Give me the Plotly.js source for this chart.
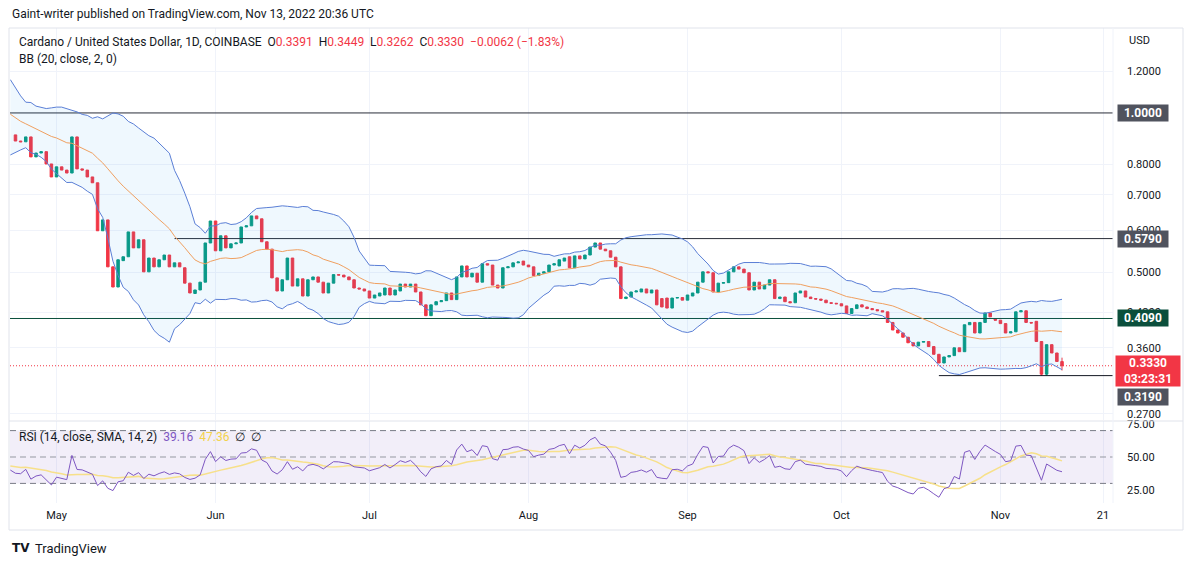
<!DOCTYPE html>
<html><head><meta charset="utf-8">
<script src="https://cdn.plot.ly/plotly-3.0.1.min.js"></script>
<style>html,body{margin:0;padding:0;background:#fff;}#chart{width:1194px;height:565px;}</style>
</head><body><div id="chart"></div>
<script>
// ---- data (ADA/USD daily, Coinbase) ----
const firstCandleDate = '2022-04-23';
const openP = [.909,.885,.882,.901,.826,.840,.845,.801,.757,.791,
 .780,.770,.901,.784,.780,.757,.738,.599,.628,.512,
 .469,.526,.535,.596,.556,.576,.501,.532,.512,.528,
 .539,.512,.521,.510,.477,.456,.463,.479,.568,.625,
 .549,.586,.556,.566,.568,.609,.612,.639,.631,.571,
 .553,.488,.461,.484,.532,.471,.486,.451,.484,.490,
 .479,.457,.477,.495,.494,.490,.484,.467,.465,.461,
 .447,.451,.453,.467,.453,.461,.475,.469,.475,.459,
 .434,.414,.434,.440,.442,.457,.444,.490,.514,.490,
 .498,.479,.519,.516,.473,.467,.510,.512,.521,.525,
 .516,.512,.493,.498,.501,.516,.514,.525,.535,.510,
 .537,.530,.539,.558,.568,.553,.549,.534,.512,.446,
 .449,.459,.459,.465,.457,.463,.446,.447,.428,.447,
 .448,.443,.451,.457,.479,.501,.499,.459,.477,.478,
 .501,.512,.507,.499,.463,.479,.465,.473,.484,.446,
 .449,.440,.438,.457,.461,.449,.446,.445,.443,.438,
 .437,.436,.432,.418,.427,.434,.430,.427,.425,.423,
 .421,.402,.389,.384,.377,.368,.363,.369,.370,.362,
 .350,.337,.346,.348,.360,.354,.398,.402,.384,.402,
 .419,.408,.406,.400,.384,.386,.421,.423,.402,.404,
 .370,.321,.365,.352,.3391];
const highP = [.909,.885,.901,.901,.840,.845,.845,.801,.791,.791,
 .780,.901,.901,.784,.780,.757,.738,.628,.628,.512,
 .528,.535,.596,.596,.576,.576,.532,.532,.528,.539,
 .539,.521,.521,.510,.477,.463,.479,.568,.625,.625,
 .586,.586,.566,.568,.609,.612,.639,.639,.631,.571,
 .553,.488,.484,.532,.532,.486,.486,.484,.490,.490,
 .479,.477,.495,.495,.494,.490,.484,.467,.465,.461,
 .453,.457,.467,.467,.463,.475,.475,.475,.475,.459,
 .434,.434,.440,.442,.457,.457,.490,.514,.514,.498,
 .498,.519,.519,.516,.473,.510,.512,.521,.523,.525,
 .516,.512,.498,.501,.516,.519,.528,.532,.535,.537,
 .537,.539,.558,.568,.568,.553,.549,.534,.512,.449,
 .459,.461,.465,.465,.463,.463,.446,.447,.447,.448,
 .448,.453,.457,.479,.501,.501,.499,.477,.478,.501,
 .512,.512,.507,.499,.479,.479,.473,.484,.484,.449,
 .449,.440,.457,.461,.461,.449,.446,.445,.443,.438,
 .437,.436,.432,.427,.434,.434,.430,.427,.425,.423,
 .421,.402,.389,.384,.377,.368,.369,.370,.370,.362,
 .350,.346,.348,.360,.360,.398,.402,.402,.402,.419,
 .419,.408,.406,.400,.386,.421,.423,.423,.402,.404,
 .370,.365,.365,.352,.3449];
const lowP = [.885,.882,.882,.826,.826,.840,.801,.757,.757,.780,
 .770,.770,.784,.780,.757,.738,.599,.599,.512,.469,
 .469,.526,.535,.556,.556,.501,.501,.512,.512,.528,
 .512,.512,.512,.477,.457,.456,.463,.479,.568,.549,
 .549,.556,.556,.566,.568,.609,.612,.631,.571,.553,
 .488,.461,.461,.484,.471,.471,.451,.451,.484,.479,
 .457,.457,.477,.494,.490,.484,.467,.465,.461,.447,
 .447,.451,.453,.453,.453,.461,.469,.469,.459,.434,
 .414,.414,.434,.440,.442,.444,.444,.490,.490,.490,
 .479,.479,.516,.473,.467,.467,.510,.512,.521,.516,
 .512,.493,.493,.498,.501,.516,.514,.525,.510,.510,
 .530,.530,.539,.558,.553,.549,.534,.512,.446,.446,
 .449,.459,.459,.457,.457,.434,.430,.428,.428,.447,
 .443,.443,.451,.457,.479,.499,.459,.459,.477,.478,
 .501,.507,.499,.463,.463,.465,.465,.473,.446,.446,
 .440,.438,.438,.457,.449,.446,.445,.443,.438,.437,
 .436,.432,.418,.418,.427,.430,.427,.425,.423,.421,
 .402,.389,.384,.377,.368,.363,.363,.369,.362,.350,
 .337,.337,.346,.348,.354,.354,.398,.384,.384,.402,
 .412,.406,.400,.384,.384,.386,.421,.402,.401,.370,
 .319,.319,.352,.3392,.3262];
const closeP = [.885,.882,.901,.826,.840,.845,.801,.757,.791,.780,
 .770,.901,.784,.780,.757,.738,.599,.628,.512,.469,
 .528,.535,.596,.556,.576,.501,.532,.512,.528,.539,
 .512,.521,.512,.477,.457,.463,.479,.568,.625,.549,
 .586,.556,.566,.568,.609,.612,.639,.631,.571,.553,
 .488,.461,.484,.532,.471,.486,.451,.484,.490,.479,
 .457,.477,.495,.494,.490,.484,.467,.465,.461,.447,
 .453,.457,.467,.453,.463,.475,.469,.475,.459,.434,
 .414,.434,.440,.442,.457,.444,.490,.514,.490,.498,
 .479,.519,.516,.473,.467,.510,.512,.521,.523,.516,
 .512,.493,.498,.501,.516,.519,.528,.532,.510,.537,
 .530,.539,.558,.568,.553,.549,.534,.512,.446,.449,
 .459,.461,.465,.457,.463,.434,.430,.428,.447,.448,
 .443,.453,.457,.479,.501,.499,.459,.477,.478,.501,
 .512,.507,.499,.463,.479,.465,.473,.484,.446,.449,
 .440,.438,.457,.461,.449,.446,.445,.443,.438,.437,
 .436,.432,.418,.427,.434,.430,.427,.425,.423,.421,
 .402,.389,.384,.377,.368,.363,.369,.370,.362,.350,
 .337,.346,.348,.360,.354,.398,.402,.384,.402,.419,
 .412,.406,.400,.384,.386,.421,.423,.402,.401,.370,
 .321,.365,.352,.3392,.3330];
// earlier closes (off-chart, 2022-03-24 .. 2022-04-22) for indicator warm-up
const warmupStart = '2022-03-24';
const warmupCloses = [1.05,1.10,1.14,1.18,1.18,1.18,1.16,1.14,1.15,1.15,
 1.20,1.17,1.11,1.03,1.06,0.99,1.02,0.99,0.91,0.94,
 0.98,0.94,0.96,0.96,0.92,0.96,0.96,0.96,0.92,0.909];
// axis ticks
const timeTickDates = ['2022-05-01','2022-06-01','2022-07-01','2022-08-01','2022-09-01','2022-10-01','2022-11-01','2022-11-21'];
const timeTickText = ['May','Jun','Jul','Aug','Sep','Oct','Nov','21'];
const priceTicks = [1.2,0.8,0.7,0.6,0.5,0.42,0.36,0.27];
const rsiTicks = [25,50,75];
// horizontal levels drawn on chart
const levelValues = [1.0, 0.579, 0.409, 0.319];
const levelStarts = ['2022-04-21 22:00','2022-05-24','2022-04-21 22:00','2022-10-20'];
const rsiLegendValues = ['39.16','47.36'];
const countdownText = '03:23:31';

// ---- helpers ----
function addDays(base,n){const d=new Date(base+'T00:00:00Z');d.setUTCDate(d.getUTCDate()+n);return d.toISOString().slice(0,10);}
const X0='2022-04-21 22:20', X1='2022-11-22 22:35';
const L=10,R=1113,T=28,B=503,W=R-L,H=B-T;
const px=x=>(x-L)/W, py=y=>(B-y)/H;

const dates = closeP.map((_,i)=>addDays(firstCandleDate,i));
const allCloses = warmupCloses.concat(closeP);
const allDates = allCloses.map((_,i)=>addDays(warmupStart,i));
const nW = warmupCloses.length;

// Bollinger Bands (20, 2)
const bbX=[],bbU=[],bbL=[],bbM=[];
for(let k=nW-1;k<allCloses.length;k++){
  const w=allCloses.slice(k-19,k+1);
  const m=w.reduce((a,b)=>a+b,0)/20;
  const sd=Math.sqrt(w.reduce((a,b)=>a+(b-m)*(b-m),0)/20);
  bbX.push(allDates[k]);bbM.push(m);bbU.push(m+2*sd);bbL.push(m-2*sd);
}
// RSI 14 (Wilder) + SMA 14
const rsi=new Array(allCloses.length).fill(null);
let ag=0,al=0;
for(let k=1;k<allCloses.length;k++){
  const ch=allCloses[k]-allCloses[k-1];const g=Math.max(ch,0),l=Math.max(-ch,0);
  if(k<=14){ag+=g/14;al+=l/14;} else {ag=(ag*13+g)/14;al=(al*13+l)/14;}
  if(k>=14) rsi[k]= al===0?100:100-100/(1+ag/al);
}
const rsiX=[],rsiY=[],rsiMA=[];
for(let k=nW-1;k<allCloses.length;k++){
  rsiX.push(allDates[k]);rsiY.push(rsi[k]);
  let s=0;for(let j=k-13;j<=k;j++)s+=rsi[j];rsiMA.push(s/14);
}

const lastI=closeP.length-1;
const fmt=v=>v.toFixed(4);
const chg=closeP[lastI]-closeP[lastI-1];
const chgPct=chg/closeP[lastI-1]*100;
const RED='#f23645',GREEN='#089981',TXT='#131722';
const sp='\u00a0';

const traces=[];
// levels
const levelColors=['#2a2e39','#2a2e39','#0b4f3c','#131722'];
levelValues.forEach((v,i)=>traces.push({type:'scatter',mode:'lines',x:[levelStarts[i],X1],y:[v,v],line:{color:levelColors[i],width:1},xaxis:'x',yaxis:'y',hoverinfo:'skip'}));
// current price dotted
traces.push({type:'scatter',mode:'lines',x:[X0,X1],y:[closeP[lastI],closeP[lastI]],line:{color:RED,width:1,dash:'1px,2px'},xaxis:'x',yaxis:'y',hoverinfo:'skip'});
// BB
traces.push({type:'scatter',mode:'lines',x:bbX,y:bbL,line:{color:'#5b7fd6',width:1},xaxis:'x',yaxis:'y',hoverinfo:'skip'});
traces.push({type:'scatter',mode:'lines',x:bbX,y:bbU,line:{color:'#5b7fd6',width:1},fill:'tonexty',fillcolor:'rgba(33,150,243,0.07)',xaxis:'x',yaxis:'y',hoverinfo:'skip'});
traces.push({type:'scatter',mode:'lines',x:bbX,y:bbM,line:{color:'#f0a060',width:1},xaxis:'x',yaxis:'y',hoverinfo:'skip'});
// candles
traces.push({type:'candlestick',x:dates,open:openP,high:highP,low:lowP,close:closeP,
  increasing:{line:{color:GREEN,width:1},fillcolor:GREEN},decreasing:{line:{color:RED,width:1},fillcolor:RED},
  whiskerwidth:0,xaxis:'x',yaxis:'y',hoverinfo:'skip'});
// RSI band
traces.push({type:'scatter',mode:'lines',x:[X0,X1],y:[30,30],line:{color:'#787b86',width:1,dash:'6px,4px'},xaxis:'x',yaxis:'y2',hoverinfo:'skip'});
traces.push({type:'scatter',mode:'lines',x:[X0,X1],y:[70,70],line:{color:'#787b86',width:1,dash:'6px,4px'},fill:'tonexty',fillcolor:'rgba(126,87,194,0.1)',xaxis:'x',yaxis:'y2',hoverinfo:'skip'});
traces.push({type:'scatter',mode:'lines',x:[X0,X1],y:[50,50],line:{color:'#9598a1',width:1,dash:'6px,4px'},xaxis:'x',yaxis:'y2',hoverinfo:'skip'});
traces.push({type:'scatter',mode:'lines',x:rsiX,y:rsiMA,line:{color:'#f7e08a',width:1.5},xaxis:'x',yaxis:'y2',hoverinfo:'skip'});
traces.push({type:'scatter',mode:'lines',x:rsiX,y:rsiY,line:{color:'#7e57c2',width:1},xaxis:'x',yaxis:'y2',hoverinfo:'skip'});

const F='Roboto, Arial, sans-serif';
const ann=[];
ann.push({xref:'paper',yref:'paper',x:px(10),y:py(14),xanchor:'left',yanchor:'middle',showarrow:false,text:'Gaint-writer published on TradingView.com, Nov 13, 2022 20:36 UTC',font:{family:F,size:12,color:TXT}});
const r=s=>'<span style="color:'+RED+'">'+s+'</span>';
ann.push({xref:'paper',yref:'paper',x:px(17),y:py(42),xanchor:'left',yanchor:'middle',showarrow:false,
  text:'Cardano / United States Dollar, 1D, COINBASE'+sp+sp+'O'+r(fmt(openP[lastI]))+sp+sp+'H'+r(fmt(highP[lastI]))+sp+sp+'L'+r(fmt(lowP[lastI]))+sp+sp+'C'+r(fmt(closeP[lastI]))+sp+sp+r((chg<0?'\u2212':'+')+fmt(Math.abs(chg))+' ('+(chg<0?'\u2212':'+')+Math.abs(chgPct).toFixed(2)+'%)'),
  font:{family:F,size:12,color:TXT}});
ann.push({xref:'paper',yref:'paper',x:px(17),y:py(59),xanchor:'left',yanchor:'middle',showarrow:false,text:'BB (20, close, 2, 0)',font:{family:F,size:12,color:TXT}});
ann.push({xref:'paper',yref:'paper',x:px(17),y:py(437),xanchor:'left',yanchor:'middle',showarrow:false,
  text:'RSI (14, close, SMA, 14, 2)'+sp+sp+'<span style="color:#7e57c2">'+rsiLegendValues[0]+'</span>'+sp+sp+'<span style="color:#f2d24b">'+rsiLegendValues[1]+'</span>'+sp+sp+'\u2205'+sp+sp+'\u2205',
  font:{family:F,size:12,color:TXT}});
ann.push({xref:'paper',yref:'paper',x:px(1127),y:py(40),xanchor:'left',yanchor:'middle',showarrow:false,text:'USD',font:{family:F,size:11,color:TXT}});
// price label boxes
const boxColors=['#50535e','#50535e','#0b4f3c','#50535e'];
const boxShift=[0,0,0,-21];
levelValues.forEach((v,i)=>ann.push({xref:'paper',yref:'y',x:1,xshift:4,y:Math.log10(v),yshift:boxShift[i],xanchor:'left',yanchor:'middle',showarrow:false,
  text:'<b>'+fmt(v)+'</b>',bgcolor:boxColors[i],borderpad:2,width:46,height:12,font:{family:F,size:12,color:'#ffffff'}}));
ann.push({xref:'paper',yref:'y',x:1,xshift:2,y:Math.log10(closeP[lastI]),yshift:-5,xanchor:'left',yanchor:'middle',showarrow:false,
  text:'<b>'+fmt(closeP[lastI])+'</b><br><b>'+countdownText+'</b>',bgcolor:RED,borderpad:2,width:60,height:26,font:{family:F,size:12,color:'#ffffff'}});
// footer
ann.push({xref:'paper',yref:'paper',x:px(10),y:py(548),xanchor:'left',yanchor:'middle',showarrow:false,text:'<b>TV</b>',font:{family:'DejaVu Sans',size:12,color:'#131722'}});
ann.push({xref:'paper',yref:'paper',x:px(33),y:py(548),xanchor:'left',yanchor:'middle',showarrow:false,text:'TradingView',font:{family:F,size:13,color:'#131722'}});

const bc='#e0e3eb';
const shapes=[
 {type:'line',xref:'paper',yref:'paper',x0:px(9),x1:px(1183),y0:py(28),y1:py(28),line:{color:bc,width:1}},
 {type:'line',xref:'paper',yref:'paper',x0:px(9),x1:px(1183),y0:py(530),y1:py(530),line:{color:bc,width:1}},
 {type:'line',xref:'paper',yref:'paper',x0:px(9),x1:px(9),y0:py(28),y1:py(530),line:{color:bc,width:1}},
 {type:'line',xref:'paper',yref:'paper',x0:px(1183),x1:px(1183),y0:py(28),y1:py(530),line:{color:bc,width:1}},
 {type:'line',xref:'paper',yref:'paper',x0:px(9),x1:px(1183),y0:py(421),y1:py(421),line:{color:bc,width:1}},
 {type:'line',xref:'paper',yref:'paper',x0:px(1113),x1:px(1113),y0:py(28),y1:py(503),line:{color:'#f0f3fa',width:1}}
];

const layout={width:1194,height:565,margin:{l:L,r:1194-R,t:T,b:565-B,pad:0},
 paper_bgcolor:'#ffffff',plot_bgcolor:'#ffffff',showlegend:false,hovermode:false,
 font:{family:F,size:11,color:TXT},
 xaxis:{type:'date',range:[X0,X1],anchor:'y2',tickvals:timeTickDates,ticktext:timeTickText,showgrid:true,gridcolor:'#f0f3fa',
   zeroline:false,showline:false,ticks:'',ticklabelstandoff:4,tickfont:{family:F,size:11,color:TXT},rangeslider:{visible:false},fixedrange:true},
 yaxis:{type:'log',domain:[py(420),1],range:[Math.log10(0.263),Math.log10(1.447)],side:'right',anchor:'x',tickvals:priceTicks,
   ticktext:priceTicks.map(v=>v.toFixed(4)),showgrid:true,gridcolor:'#f0f3fa',zeroline:false,showline:false,ticks:'',ticklabelstandoff:13,
   tickfont:{family:F,size:11,color:TXT},fixedrange:true},
 yaxis2:{domain:[0,py(421)],range:[15.15,77.27],side:'right',anchor:'x',tickvals:rsiTicks,ticktext:rsiTicks.map(v=>v.toFixed(2)),
   showgrid:false,zeroline:false,showline:false,ticks:'',ticklabelstandoff:13,tickfont:{family:F,size:11,color:TXT},fixedrange:true},
 annotations:ann,shapes:shapes};
Plotly.newPlot('chart',traces,layout,{staticPlot:true,displayModeBar:false});
</script></body></html>
